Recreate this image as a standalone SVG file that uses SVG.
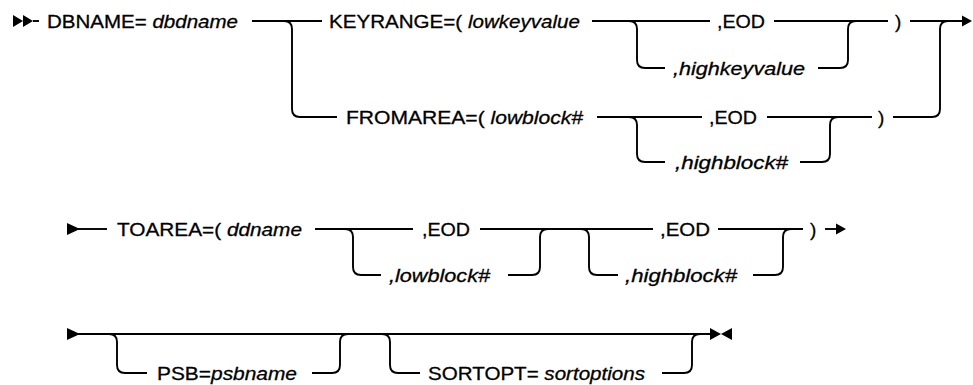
<svg xmlns="http://www.w3.org/2000/svg" width="973" height="385" viewBox="0 0 973 385">
<style>
  .bg{fill:#ffffff}
  .ln{fill:none;stroke:#000;stroke-width:1.9;stroke-linejoin:round}
  .ah{fill:#000;stroke:none}
  text{font-family:"Liberation Sans",Arial,sans-serif;font-size:19px;fill:#000;stroke:#000;stroke-width:0.3}
  .v{font-style:italic}
</style>
<rect class="bg" x="0" y="0" width="973" height="385"/>
<g id="connectors">
  <!-- row 1 -->
  <polygon class="ah" points="13,15 23,21 13,27"/>
  <polygon class="ah" points="23,15 33,21 23,27"/>
  <path class="ln" d="M33,21 H39"/>
  <path class="ln" d="M252,21 H322"/>
  <path class="ln" d="M284,21 Q292,21 292,29 V109 Q292,117 300,117 H337"/>
  <path class="ln" d="M592,21 H710"/>
  <path class="ln" d="M629,21 Q637,21 637,29 V60 Q637,68 645,68 H665"/>
  <path class="ln" d="M774,21 H888"/>
  <path class="ln" d="M818,68 H840 Q848,68 848,60 V29 Q848,21 856,21"/>
  <path class="ln" d="M910,21 H964"/>
  <polygon class="ah" points="962,15.5 972,21 962,26.5"/>
  <!-- row 2 -->
  <path class="ln" d="M597,117 H702"/>
  <path class="ln" d="M629,117 Q637,117 637,125 V154 Q637,162 645,162 H665"/>
  <path class="ln" d="M767,117 H872"/>
  <path class="ln" d="M800,162 H822 Q830,162 830,154 V125 Q830,117 838,117"/>
  <path class="ln" d="M893,117 H932 Q940,117 940,109 V29 Q940,21 948,21"/>
  <!-- row 3 -->
  <polygon class="ah" points="67,223 80,229 67,235"/>
  <path class="ln" d="M78,229 H107"/>
  <path class="ln" d="M315,229 H413"/>
  <path class="ln" d="M345,229 Q353,229 353,237 V267 Q353,275 361,275 H381"/>
  <path class="ln" d="M480,229 H653"/>
  <path class="ln" d="M508,275 H532 Q540,275 540,267 V237 Q540,229 548,229"/>
  <path class="ln" d="M581,229 Q589,229 589,237 V267 Q589,275 597,275 H618"/>
  <path class="ln" d="M718,229 H803"/>
  <path class="ln" d="M753,275 H775 Q783,275 783,267 V237 Q783,229 791,229"/>
  <path class="ln" d="M825,229 H838"/>
  <polygon class="ah" points="836,223.5 846,229 836,234.5"/>
  <!-- row 4 -->
  <polygon class="ah" points="67,328 80,334 67,340"/>
  <path class="ln" d="M78,334 H710"/>
  <path class="ln" d="M109,334 Q117,334 117,342 V365 Q117,373 125,373 H147"/>
  <path class="ln" d="M312,373 H332 Q340,373 340,365 V342 Q340,334 348,334"/>
  <path class="ln" d="M382,334 Q390,334 390,342 V365 Q390,373 398,373 H420"/>
  <path class="ln" d="M662,373 H684 Q692,373 692,365 V342 Q692,334 700,334"/>
  <polygon class="ah" points="710,328 721,334 710,340"/>
  <polygon class="ah" points="732,328 721,334 732,340"/>
</g>
<g id="dbname"><text x="47" y="27.5" textLength="191" lengthAdjust="spacingAndGlyphs">DBNAME= <tspan class="v">dbdname</tspan></text></g>
<g id="keyrange"><text x="329" y="27.5" textLength="251" lengthAdjust="spacingAndGlyphs">KEYRANGE=( <tspan class="v">lowkeyvalue</tspan></text></g>
<g id="keyrange-eod"><text x="717" y="27.5" textLength="48" lengthAdjust="spacingAndGlyphs">,EOD</text></g>
<g id="highkeyvalue"><text x="673" y="74.5" textLength="132" lengthAdjust="spacingAndGlyphs" class="v">,highkeyvalue</text></g>
<g id="keyrange-close"><text x="895" y="27.5">)</text></g>
<g id="fromarea"><text x="346" y="123.5" textLength="237" lengthAdjust="spacingAndGlyphs">FROMAREA=( <tspan class="v">lowblock#</tspan></text></g>
<g id="fromarea-eod"><text x="709" y="123.5" textLength="48" lengthAdjust="spacingAndGlyphs">,EOD</text></g>
<g id="fromarea-highblock"><text x="675" y="168.5" textLength="113" lengthAdjust="spacingAndGlyphs" class="v">,highblock#</text></g>
<g id="fromarea-close"><text x="878" y="123.5">)</text></g>
<g id="toarea"><text x="117" y="235.5" textLength="185" lengthAdjust="spacingAndGlyphs">TOAREA=( <tspan class="v">ddname</tspan></text></g>
<g id="toarea-eod1"><text x="422" y="235.5" textLength="48" lengthAdjust="spacingAndGlyphs">,EOD</text></g>
<g id="toarea-lowblock"><text x="389" y="281.5" textLength="101" lengthAdjust="spacingAndGlyphs" class="v">,lowblock#</text></g>
<g id="toarea-eod2"><text x="660" y="235.5" textLength="50" lengthAdjust="spacingAndGlyphs">,EOD</text></g>
<g id="toarea-highblock"><text x="625" y="281.5" textLength="112" lengthAdjust="spacingAndGlyphs" class="v">,highblock#</text></g>
<g id="toarea-close"><text x="810" y="235.5">)</text></g>
<g id="psb"><text x="157" y="379.5" textLength="140" lengthAdjust="spacingAndGlyphs">PSB=<tspan class="v">psbname</tspan></text></g>
<g id="sortopt"><text x="428" y="379.5" textLength="217" lengthAdjust="spacingAndGlyphs">SORTOPT= <tspan class="v">sortoptions</tspan></text></g>
</svg>
